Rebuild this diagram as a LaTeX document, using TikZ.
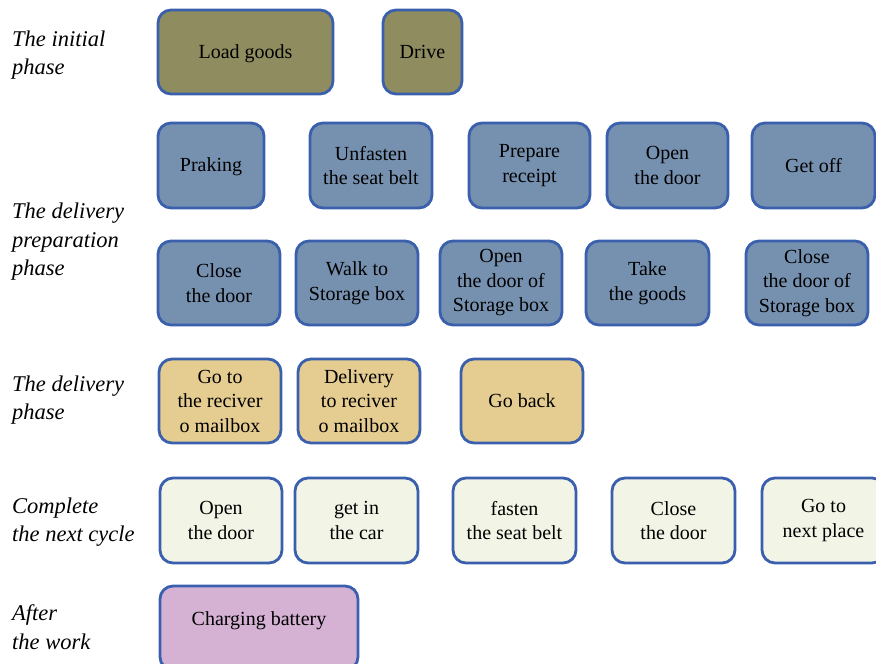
\documentclass[tikz,border=0pt]{standalone}
\usepackage{fontspec}
\setmainfont{Liberation Serif}
\definecolor{edgeblue}{HTML}{3A60AD}
\definecolor{olivefill}{HTML}{8F8C5F}
\definecolor{steelfill}{HTML}{7691B0}
\definecolor{sandfill}{HTML}{E5CC91}
\definecolor{creamfill}{HTML}{F2F4E6}
\definecolor{lilacfill}{HTML}{D5B1D4}
\tikzset{
  task/.style={draw=edgeblue, line width=2.8pt, rounded corners=13pt,
    align=center, inner sep=0pt, text=black,
    font=\fontsize{20}{24.5}\selectfont},
  phase/.style={anchor=west, align=left, inner sep=0pt,
    font=\fontsize{22.5}{28.5}\selectfont\itshape}
}
% box of width w and height h centred at (x,y), in pixel units
\newcommand{\taskbox}[7]{%
  \node[task, fill=#2, minimum width=#3pt, minimum height=#4pt] (#1) at (#5,#6) {#7};}
\begin{document}
\begin{tikzpicture}[x=1pt, y=-1pt]
\useasboundingbox (0,0) rectangle (876,664);
\clip (0,0) rectangle (876,664);

% phase labels
\node[phase] (lInit) at (12,55) {The initial\\phase};
\node[phase] (lPrep) at (12,242) {The delivery\\preparation\\phase};
\node[phase] (lDeliv) at (12,400) {The delivery\\phase};
\node[phase] (lCycle) at (12,522) {Complete\\the next cycle};
\node[phase] (lAfter) at (12,627) {After\\the work};

% initial phase
\taskbox{load}{olivefill}{175}{84}{245.5}{52}{\raisebox{-1.5pt}[\height][\depth]{Load goods}}
\taskbox{drive}{olivefill}{79}{84}{422.5}{52}{Drive}

% delivery preparation, first row
\taskbox{park}{steelfill}{106}{85}{211}{165.5}{\raisebox{-1.5pt}[\height][\depth]{Praking}}
\taskbox{unfasten}{steelfill}{122}{85}{371}{165.5}{Unfasten\\the seat belt}
\taskbox{receipt}{steelfill}{121}{85}{529.5}{165.5}{Prepare\\receipt}
\taskbox{opendoor}{steelfill}{121}{85}{667.5}{165.5}{Open\\the door}
\taskbox{getoff}{steelfill}{123}{85}{813.5}{165.5}{Get off}

% delivery preparation, second row
\taskbox{closedoor}{steelfill}{122}{84}{219}{283}{Close\\the door}
\taskbox{walk}{steelfill}{122}{84}{357}{283}{Walk to\\Storage box}
\taskbox{openbox}{steelfill}{122}{84}{501}{283}{Open\\the door of\\Storage box}
\taskbox{take}{steelfill}{123}{84}{647.5}{283}{Take\\the goods}
\taskbox{closebox}{steelfill}{122}{84}{807}{283}{Close\\the door of\\Storage box}

% delivery phase
\taskbox{goto}{sandfill}{122}{84}{220}{401}{Go to\\the reciver\\o mailbox}
\taskbox{deliver}{sandfill}{122}{84}{359}{401}{Delivery\\to reciver\\o mailbox}
\taskbox{goback}{sandfill}{122}{84}{522}{401}{Go back}

% next cycle
\taskbox{open2}{creamfill}{122}{85}{221}{520.5}{Open\\the door}
\taskbox{getin}{creamfill}{123}{85}{356.5}{520.5}{get in\\the car}
\taskbox{fasten}{creamfill}{123}{85}{514.5}{520.5}{fasten\\the seat belt}
\taskbox{close2}{creamfill}{123}{85}{673.5}{520.5}{Close\\the door}
\taskbox{nextplace}{creamfill}{123}{85}{823.5}{520.5}{Go to\\next place}

% after the work: the box runs on past the lower edge
\taskbox{charge}{lilacfill}{198}{84}{259}{628}{\raisebox{7pt}[\height][\depth]{Charging battery}}
\end{tikzpicture}
\end{document}
